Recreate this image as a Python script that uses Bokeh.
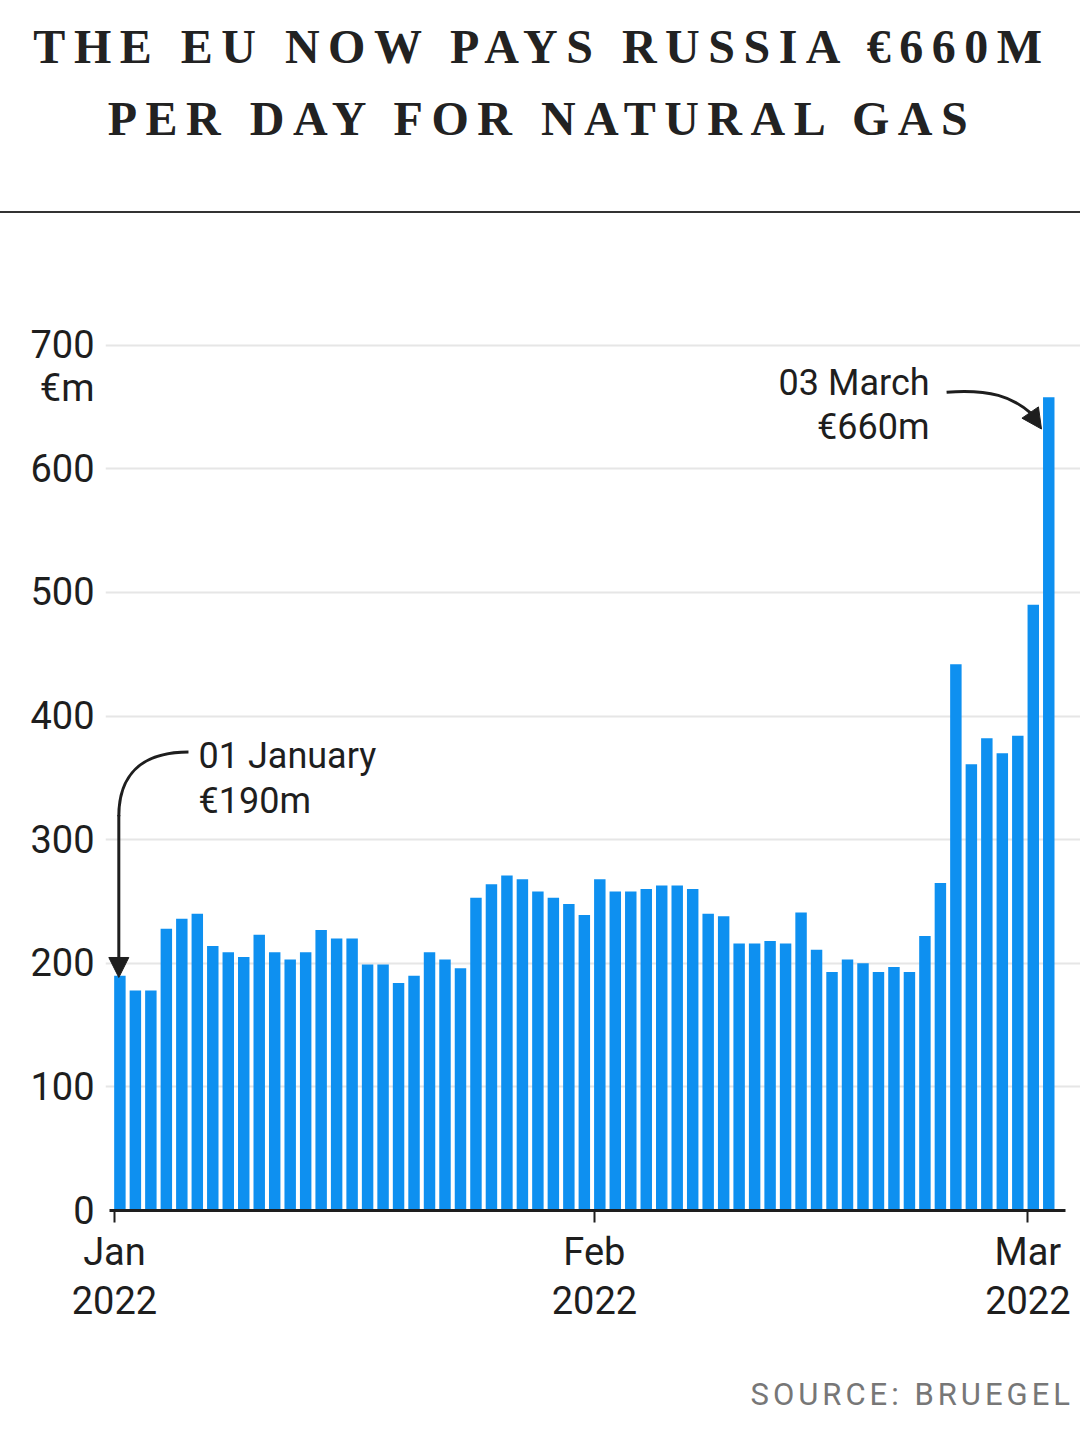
import numpy as np
import pandas as pd
from bokeh.plotting import figure
from bokeh.models import Range1d, FixedTicker, Label, Arrow, NormalHead, Div
from bokeh.layouts import column
from bokeh.embed import file_html
from bokeh.resources import INLINE

# ---------------- data ----------------
start_date = "2022-01-01"
values = [190, 178, 178, 228, 236, 240, 214, 209, 205, 223,
          209, 203, 209, 227, 220, 220, 199, 199, 184, 190,
          209, 203, 196, 253, 264, 271, 268, 258, 253, 248,
          239, 268, 258, 258, 260, 263, 263, 260, 240, 238,
          216, 216, 218, 216, 241, 211, 193, 203, 200, 193,
          197, 193, 222, 265, 442, 361, 382, 370, 384, 490,
          658]
tick_dates = ["2022-01-01", "2022-02-01", "2022-03-01"]
tick_labels = ["Jan\n2022", "Feb\n2022", "Mar\n2022"]
y_ticks = [0, 100, 200, 300, 400, 500, 600, 700]
unit_label = "€m"
title_lines = ["THE EU NOW PAYS RUSSIA €660M", "PER DAY FOR NATURAL GAS"]
source_text = "SOURCE: BRUEGEL"
first_note = ["01 January", "€190m"]
last_note = ["03 March", "€660m"]

# ---------------- derived ----------------
t0 = pd.Timestamp(start_date)
tick_pos = [(pd.Timestamp(d) - t0).days for d in tick_dates]
xs = np.arange(len(values)) + 0.35

FONT = "Roboto"
BAR = "#0e90f0"
INK = "#1e1e1e"

title_div = Div(
    text="<br>".join(title_lines),
    width=1080, height=211, margin=0,
    styles={
        "font-family": "'Liberation Serif', serif",
        "font-size": "48px",
        "font-weight": "bold",
        "letter-spacing": "8.5px",
        "line-height": "72px",
        "text-align": "center",
        "color": "#222222",
        "padding-top": "11px",
        "padding-left": "4px",
        "box-sizing": "border-box",
        "width": "1080px",
    },
)
rule_div = Div(text="", width=1080, height=2, margin=0,
               styles={"background-color": "#333333", "width": "1080px"})

p = figure(
    frame_width=975, frame_height=890,
    min_border_left=105, min_border_right=0,
    min_border_top=107, min_border_bottom=150,
    x_range=Range1d(-0.58, 62.4), y_range=Range1d(0, 720),
    output_backend="svg", toolbar_location=None,
    background_fill_color="white", border_fill_color="white",
)
p.outline_line_color = None

p.vbar(x=xs, top=values, width=0.74, bottom=0,
       fill_color=BAR, line_color=None)

# axes
p.xaxis.ticker = FixedTicker(ticks=tick_pos)
p.xaxis.major_label_overrides = dict(zip(tick_pos, tick_labels))
p.xaxis.axis_line_color = INK
p.xaxis.axis_line_width = 3
p.xaxis.bounds = (-0.3, 61.4)
p.xaxis.major_tick_out = 12
p.xaxis.major_tick_in = 0
p.xaxis.major_tick_line_width = 2
p.xaxis.major_tick_line_color = INK
p.xaxis.minor_tick_line_color = None
p.xaxis.major_label_text_font = FONT
p.xaxis.major_label_text_font_size = "38px"
p.xaxis.major_label_text_color = INK
p.xaxis.major_label_text_line_height = 1.12
p.xaxis.major_label_standoff = 7

# unit label sits as an extra (grid-less) tick just under the top tick
unit_pos = y_ticks[-1] - 35
p.yaxis.ticker = FixedTicker(ticks=y_ticks + [unit_pos])
p.yaxis.major_label_overrides = {unit_pos: unit_label}
p.yaxis.axis_line_color = None
p.yaxis.major_tick_line_color = None
p.yaxis.minor_tick_line_color = None
p.yaxis.major_label_text_font = FONT
p.yaxis.major_label_text_font_size = "38px"
p.yaxis.major_label_text_color = INK
p.yaxis.major_label_standoff = 5

p.xgrid.grid_line_color = None
p.ygrid.ticker = FixedTicker(ticks=y_ticks[1:])
p.ygrid.grid_line_color = "#e6e6e6"
p.ygrid.grid_line_width = 2

# ---- first-day annotation ----
fx = xs[0] - 0.07
fy = values[0]
p.bezier(x0=[4.78], y0=[fy + 181], x1=[fx], y1=[fy + 129],
         cx0=[1.68], cy0=[fy + 181], cx1=[fx], cy1=[fy + 161.5],
         line_color=INK, line_width=3)
p.add_layout(Arrow(x_start=fx, y_start=fy + 130, x_end=fx, y_end=fy - 1.5,
                   line_color=INK, line_width=3,
                   end=NormalHead(size=20, fill_color=INK, line_color=INK)))
p.add_layout(Label(x=5.43, y=fy + 177.5, text=first_note[0], text_align="left",
                   text_baseline="alphabetic", text_font=FONT,
                   text_font_size="36px", text_color=INK))
p.add_layout(Label(x=5.43, y=fy + 141, text=first_note[1], text_align="left",
                   text_baseline="alphabetic", text_font=FONT,
                   text_font_size="36px", text_color=INK))

# ---- last-day annotation ----
lx = xs[-1]
ly = values[-1]
p.bezier(x0=[53.75], y0=[ly + 4], x1=[lx - 1.18], y1=[ly - 12.8],
         cx0=[56.59], cy0=[ly + 6.6], cx1=[58.01], cy1=[ly + 0.1],
         line_color=INK, line_width=3)
p.add_layout(Arrow(x_start=lx - 1.18, y_start=ly - 12.8, x_end=lx - 0.47, y_end=ly - 25.8,
                   line_color=INK, line_width=3,
                   end=NormalHead(size=20, fill_color=INK, line_color=INK)))
p.add_layout(Label(x=52.65, y=ly + 11.8, text=last_note[0], text_align="right",
                   text_baseline="alphabetic", text_font=FONT,
                   text_font_size="36px", text_color=INK))
p.add_layout(Label(x=52.65, y=ly - 24.3, text=last_note[1], text_align="right",
                   text_baseline="alphabetic", text_font=FONT,
                   text_font_size="36px", text_color=INK))

source_div = Div(
    text=source_text, width=1080, height=90, margin=0,
    styles={
        "font-family": "Roboto, sans-serif",
        "font-size": "31px",
        "letter-spacing": "4px",
        "line-height": "40px",
        "color": "#777777",
        "text-align": "right",
        "padding-top": "15px",
        "padding-right": "6px",
        "box-sizing": "border-box",
        "width": "1080px",
    },
)

layout = column(title_div, rule_div, p, source_div, spacing=0)
open("out.html", "w").write(file_html(layout, INLINE))
